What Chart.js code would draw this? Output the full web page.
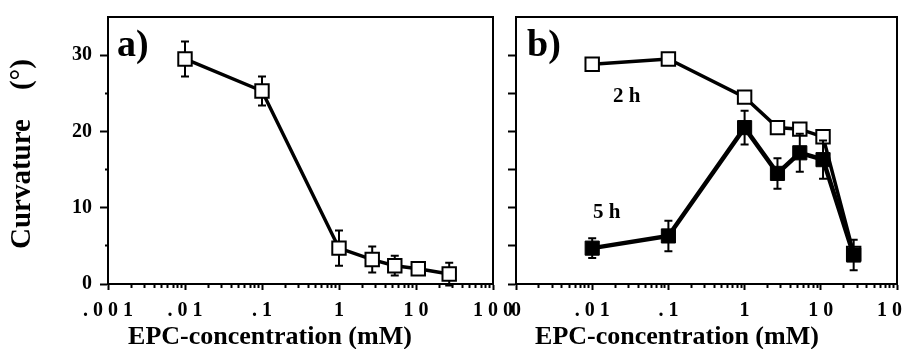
<!DOCTYPE html>
<html>
<head>
<meta charset="utf-8">
<script src="https://cdn.jsdelivr.net/npm/chart.js@4.4.1/dist/chart.umd.min.js"></script>
<style>
    html, body { margin: 0; padding: 0; background: #fff; overflow: hidden; }
    #wrap  { position: relative; width: 906px; height: 349px; overflow: hidden; background: #fff; }
    canvas { position: absolute; top: 0; }
    #panelA { left: 0; }
    #panelB { left: 500px; }
</style>
</head>
<body>
<div id="wrap">
    <canvas id="panelA" width="520" height="349"></canvas>
    <canvas id="panelB" width="430" height="349"></canvas>
</div>
<script>
// ─── Data ─────────────────────────────────────────────────────────────────

// Panel a — curvature vs EPC concentration
const concA = [0.01, 0.1, 1, 2.7, 5.3, 10.7, 27];
const curvA = [29.5, 25.3, 4.7, 3.2, 2.4, 2.0, 1.3];
const errA  = [2.3, 1.9, 2.3, 1.7, 1.3, 0, 1.5];

// Panel b — 2 h (open squares) and 5 h (filled squares)
const concB  = [0.01, 0.1, 1, 2.7, 5.3, 10.7, 27];
const curv2h = [28.8, 29.5, 24.5, 20.5, 20.3, 19.3, 4.0];
const curv5h = [4.7, 6.3, 20.5, 14.5, 17.2, 16.3, 3.8];
const err5h  = [1.3, 2.0, 2.2, 2.0, 2.5, 2.5, 2.0];

// Axis ticks
const xDecades = [0.001, 0.01, 0.1, 1, 10, 100];
const xLabelsA = ['. 0 0 1', '. 0 1', '. 1', '1', '1 0', '1 0 0'];
const xLabelsB = ['0', '. 0 1', '. 1', '1', '1 0', '1 0 0'];
const yTicks   = [0, 5, 10, 15, 20, 25, 30];
const yLabels  = ['0', '', '10', '', '20', '', '30'];

// ─── Shared look ──────────────────────────────────────────────────────────

const SERIF = '"Liberation Serif", "DejaVu Serif", serif';
Chart.defaults.font.family = SERIF;
Chart.defaults.font.weight = 'bold';
Chart.defaults.color = '#000';

/** Decade ticks plus the 2..9 minor ticks of every decade. */
function logTicks() {
    const out = [];
    xDecades.forEach((d, i) => {
        out.push({ value: d, major: true });
        if (i < xDecades.length - 1) {
            for (let k = 2; k <= 9; k++) out.push({ value: d * k, major: false });
        }
    });
    return out;
}

// Error bars drawn just before their own dataset, so squares sit on top
const errorBars = {
    id: 'errorBars',
    beforeDatasetDraw(chart, args) {
        const ds = chart.data.datasets[args.index];
        if (!ds.errors) return;
        const { ctx } = chart;
        const x = chart.scales.x, y = chart.scales.y;
        ctx.save();
        ctx.strokeStyle = '#000';
        ctx.lineWidth = 2;
        ds.data.forEach((pt, i) => {
            const e = ds.errors[i];
            if (!e) return;
            const px  = x.getPixelForValue(pt.x);
            const top = y.getPixelForValue(pt.y + e);
            const bot = y.getPixelForValue(pt.y - e);
            ctx.beginPath();
            ctx.moveTo(px, top);     ctx.lineTo(px, bot);
            ctx.moveTo(px - 4, top); ctx.lineTo(px + 4, top);
            ctx.moveTo(px - 4, bot); ctx.lineTo(px + 4, bot);
            ctx.stroke();
        });
        ctx.restore();
    },
};

// Top/right frame and the free text (panel letter, series names, x title)
const panelDecor = {
    id: 'panelDecor',
    beforeDatasetsDraw(chart) {
        const { ctx, chartArea: a } = chart;
        ctx.save();
        ctx.strokeStyle = '#000';
        ctx.lineWidth = 2;
        ctx.beginPath();
        ctx.moveTo(a.left, a.top);
        ctx.lineTo(a.right, a.top);
        ctx.lineTo(a.right, a.bottom);
        ctx.stroke();
        ctx.restore();
    },
    afterDraw(chart, args, opts) {
        const { ctx } = chart;
        ctx.save();
        ctx.fillStyle = '#000';
        ctx.textBaseline = 'alphabetic';
        (opts.texts || []).forEach(t => {
            ctx.font = t.font;
            ctx.textAlign = t.align || 'left';
            ctx.fillText(t.text, t.x, t.y);
        });
        ctx.restore();
    },
};

function xScale(labels) {
    return {
        type: 'logarithmic',
        min: 0.001,
        max: 100,
        afterBuildTicks: s => { s.ticks = logTicks(); },
        afterFit: s => { s.height = 65; s.paddingLeft = 0; s.paddingRight = 0; },
        ticks: {
            autoSkip: false, maxRotation: 0, minRotation: 0, padding: 9,
            font: { size: 20, weight: 'bold' },
            callback: (v, i, ticks) => ticks[i].major ? labels[xDecades.indexOf(v)] : '',
        },
        grid: {
            drawOnChartArea: false, tickLength: 6, tickWidth: 2, tickColor: '#000',
            tickBorderDash:       c => (c.tick && c.tick.major) ? [] : [3, 10],
            tickBorderDashOffset: 0,
        },
        border: { color: '#000', width: 2 },
    };
}

function yScale({ width, showLabels, shortMinor, title }) {
    return {
        type: 'linear',
        min: 0,
        max: 35,
        afterBuildTicks: s => { s.ticks = yTicks.map(v => ({ value: v })); },
        afterFit: s => { s.width = width; s.paddingTop = 0; s.paddingBottom = 0; },
        ticks: {
            display: showLabels, padding: 8,
            font: { size: 20, weight: 'bold' },
            callback: v => yLabels[yTicks.indexOf(v)],
        },
        grid: {
            drawOnChartArea: false, tickLength: 8, tickWidth: 2, tickColor: '#000',
            tickBorderDash:       c => (shortMinor && c.tick && c.tick.value % 10) ? [3, 5] : [],
            tickBorderDashOffset: c => (shortMinor && c.tick && c.tick.value % 10) ? 3 : 0,
        },
        border: { color: '#000', width: 2 },
        title: title ? {
            display: true, text: title, padding: { top: 5, bottom: 0 },
            font: { size: 29, weight: 'bold' },
        } : { display: false },
    };
}

const toPoints = (xs, ys) => xs.map((x, i) => ({ x, y: ys[i] }));

const X_TITLE = 'EPC-concentration (mM)';
const TITLE_FONT = `bold 26px ${SERIF}`;
const LETTER_FONT = `bold 38px ${SERIF}`;
const SERIES_FONT = `bold 21px ${SERIF}`;

// ─── Panel a ──────────────────────────────────────────────────────────────

new Chart(document.getElementById('panelA'), {
    type: 'line',
    data: {
        datasets: [{
            data: toPoints(concA, curvA),
            errors: errA,
            borderColor: '#000', borderWidth: 3.5,
            pointStyle: 'rect', pointRadius: 9.5,
            pointBackgroundColor: '#fff', pointBorderColor: '#000', pointBorderWidth: 2,
        }],
    },
    options: {
        responsive: false, animation: false, devicePixelRatio: 1,
        layout: { padding: { left: 0, right: 27, top: 17, bottom: 0 } },
        plugins: {
            legend: { display: false }, tooltip: { enabled: false },
            panelDecor: {
                texts: [
                    { text: 'a)', font: LETTER_FONT, x: 117, y: 56 },
                    { text: X_TITLE, font: TITLE_FONT, x: 270, y: 344, align: 'center' },
                ],
            },
        },
        scales: {
            x: xScale(xLabelsA),
            y: yScale({ width: 108, showLabels: true, shortMinor: true, title: 'Curvature    (°) ' }),
        },
    },
    plugins: [errorBars, panelDecor],
});

// ─── Panel b ──────────────────────────────────────────────────────────────

new Chart(document.getElementById('panelB'), {
    type: 'line',
    data: {
        datasets: [
            {
                label: '2 h', order: 1,
                data: toPoints(concB, curv2h),
                borderColor: '#000', borderWidth: 3.5,
                pointStyle: 'rect', pointRadius: 9.5,
                pointBackgroundColor: '#fff', pointBorderColor: '#000', pointBorderWidth: 2,
            },
            {
                label: '5 h', order: 0,
                data: toPoints(concB, curv5h),
                errors: err5h,
                borderColor: '#000', borderWidth: 4.5,
                pointStyle: 'rect', pointRadius: 10,
                pointBackgroundColor: '#000', pointBorderColor: '#000', pointBorderWidth: 1,
            },
        ],
    },
    options: {
        responsive: false, animation: false, devicePixelRatio: 1,
        layout: { padding: { left: 0, right: 33, top: 17, bottom: 0 } },
        plugins: {
            legend: { display: false }, tooltip: { enabled: false },
            panelDecor: {
                texts: [
                    { text: 'b)', font: LETTER_FONT, x: 27, y: 56 },
                    { text: '2 h', font: SERIES_FONT, x: 113, y: 102 },
                    { text: '5 h', font: SERIES_FONT, x: 93, y: 218 },
                    { text: X_TITLE, font: TITLE_FONT, x: 177, y: 344, align: 'center' },
                ],
            },
        },
        scales: {
            x: xScale(xLabelsB),
            y: yScale({ width: 16, showLabels: false, shortMinor: false }),
        },
    },
    plugins: [errorBars, panelDecor],
});
</script>
</body>
</html>
